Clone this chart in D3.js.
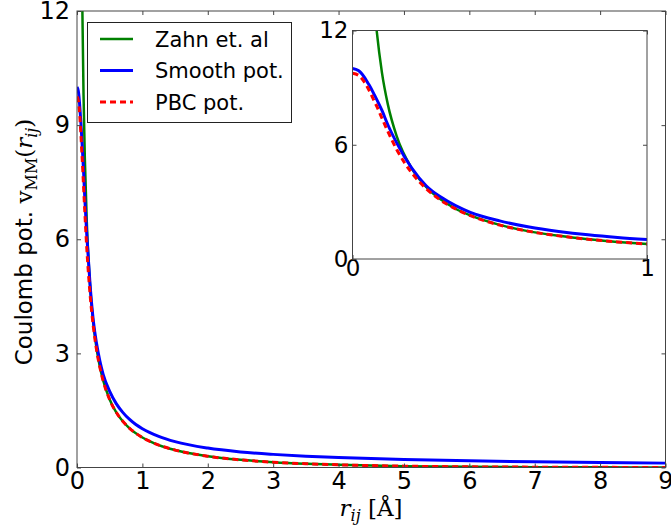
<!DOCTYPE html>
<html>
<head>
<meta charset="utf-8">
<script src="https://cdn.jsdelivr.net/npm/d3@7"></script>
<style>
  body { margin: 0; background: #fff; }
  svg { display: block; }
</style>
</head>
<body>
<svg id="chart" width="671" height="529"></svg>
<script>
// distance r_ij in Angstrom
const r_values = [0, 0.02, 0.04, 0.05, 0.06, 0.075, 0.08, 0.1, 0.12, 0.15, 0.2, 0.25, 0.3, 0.35, 0.4, 0.5,
  0.6, 0.7, 0.8, 0.9, 1.0, 1.25, 1.5, 2, 2.5, 3, 3.5, 4, 5, 6, 7, 8, 9]

// Zahn et. al (diverges at r -> 0, null where not drawn)
const zahn = [null, null, null, 19.6, 16.4, 13.1, 12.3, 9.79, 8.12, 6.45, 4.79, 3.79, 3.12, 2.64, 2.29, 1.79,
  1.45, 1.215, 1.037, 0.899, 0.788, 0.59, 0.458, 0.296, 0.201, 0.14, 0.099, 0.071, 0.036, 0.018, 0.009, 0.004, 0.002]

// smooth potential
const smooth = [10.0, 9.9, 9.55, 9.3, 9.05, 8.6, 8.45, 7.8, 7.05, 6.1, 4.8, 3.85, 3.25, 2.8, 2.45, 2.0,
  1.68, 1.45, 1.27, 1.13, 1.02, 0.82, 0.68, 0.51, 0.41, 0.345, 0.295, 0.26, 0.21, 0.175, 0.15, 0.13, 0.115]

// PBC potential
const pbc = [9.75, 9.65, 9.3, 9.05, 8.75, 8.25, 8.1, 7.4, 6.7, 5.75, 4.55, 3.7, 3.08, 2.63, 2.28, 1.78,
  1.45, 1.215, 1.037, 0.899, 0.788, 0.59, 0.458, 0.296, 0.201, 0.14, 0.099, 0.071, 0.036, 0.018, 0.009, 0.004, 0.002]

const series = [
  {name: "Zahn et. al", values: zahn, color: "#008000", width: 2.5, dash: null},
  {name: "Smooth pot.", values: smooth, color: "#0000ff", width: 3, dash: null},
  {name: "PBC pot.", values: pbc, color: "#ff0000", width: 3, dash: "6,4"},
]

const main_x_ticks = [0, 1, 2, 3, 4, 5, 6, 7, 8, 9]
const main_y_ticks = [0, 3, 6, 9, 12]
const inset_x_ticks = [0, 1]
const inset_y_ticks = [0, 6, 12]

const frame_color = "#444"
const font = "'DejaVu Sans', sans-serif"
const serif = "'DejaVu Serif', 'Liberation Serif', serif"

const svg = d3.select("#chart")

function draw_panel(opts){
  const x = d3.scaleLinear().domain(opts.x_domain).range([opts.left, opts.right])
  const y = d3.scaleLinear().domain(opts.y_domain).range([opts.bottom, opts.top])
  const g = svg.append("g")

  // white background (the inset covers the main plot)
  g.append("rect")
    .attr("x", opts.left).attr("y", opts.top)
    .attr("width", opts.right - opts.left).attr("height", opts.bottom - opts.top)
    .attr("fill", "#fff")

  g.append("clipPath").attr("id", opts.id + "-clip")
    .append("rect")
    .attr("x", opts.left).attr("y", opts.top)
    .attr("width", opts.right - opts.left).attr("height", opts.bottom - opts.top)

  const plot = g.append("g").attr("clip-path", `url(#${opts.id}-clip)`)

  series.forEach(s => {
    const pts = r_values.map((r, i) => [r, s.values[i]])
      .filter(p => p[0] <= opts.x_domain[1] + 1e-9)
    const line = d3.line()
      .defined(p => p[1] !== null)
      .x(p => x(p[0]))
      .y(p => y(p[1]))
      .curve(d3.curveMonotoneX)
    plot.append("path")
      .datum(pts)
      .attr("d", line)
      .attr("fill", "none")
      .attr("stroke", s.color)
      .attr("stroke-width", s.width)
      .attr("stroke-dasharray", s.dash)
  })

  // axes with inward ticks
  const tick_len = 4
  g.append("g")
    .attr("transform", `translate(0,${opts.bottom})`)
    .call(d3.axisBottom(x).tickValues(opts.x_ticks).tickSize(-tick_len).tickPadding(opts.x_pad).tickFormat(d3.format("d")))
  g.append("g")
    .attr("transform", `translate(${opts.left},0)`)
    .call(d3.axisLeft(y).tickValues(opts.y_ticks).tickSize(-tick_len).tickPadding(opts.y_pad).tickFormat(d3.format("d")))
  g.append("g")
    .attr("transform", `translate(0,${opts.top})`)
    .call(d3.axisTop(x).tickValues(opts.x_ticks).tickSize(-tick_len).tickFormat(""))
  g.append("g")
    .attr("transform", `translate(${opts.right},0)`)
    .call(d3.axisRight(y).tickValues(opts.y_ticks).tickSize(-tick_len).tickFormat(""))

  g.selectAll(".domain").remove()
  g.selectAll(".tick line").attr("stroke", frame_color)
  g.selectAll(".tick text")
    .attr("fill", "#000")
    .style("font-family", font)
    .style("font-size", opts.font_size + "px")

  g.append("rect")
    .attr("x", opts.left).attr("y", opts.top)
    .attr("width", opts.right - opts.left).attr("height", opts.bottom - opts.top)
    .attr("fill", "none")
    .attr("stroke", frame_color)
    .attr("stroke-width", 1)

  return {x, y, g}
}

// main plot
draw_panel({
  id: "main",
  left: 77, right: 665.5, top: 11, bottom: 467.5,
  x_domain: [0, 9], y_domain: [0, 12],
  x_ticks: main_x_ticks, y_ticks: main_y_ticks,
  x_pad: 4, y_pad: 7, font_size: 24
})

// legend
const legend = svg.append("g")
legend.append("rect")
  .attr("x", 87.5).attr("y", 22.5)
  .attr("width", 204).attr("height", 100)
  .attr("fill", "#fff")
  .attr("stroke", "#222")
  .attr("stroke-width", 1)

series.forEach((s, i) => {
  const ly = 39 + i * 31.5
  legend.append("line")
    .attr("x1", 100).attr("x2", 133)
    .attr("y1", ly).attr("y2", ly)
    .attr("stroke", s.color)
    .attr("stroke-width", s.width)
    .attr("stroke-dasharray", s.dash)
  legend.append("text")
    .attr("x", 155).attr("y", ly + 7.5)
    .style("font-family", font)
    .style("font-size", "21px")
    .text(s.name)
})

// inset
draw_panel({
  id: "inset",
  left: 352.5, right: 647, top: 30.5, bottom: 259,
  x_domain: [0, 1], y_domain: [0, 12],
  x_ticks: inset_x_ticks, y_ticks: inset_y_ticks,
  x_pad: 1, y_pad: 4, font_size: 23
})

// y axis title
const ylab = svg.append("text")
  .attr("transform", "translate(32,242) rotate(-90)")
  .attr("text-anchor", "middle")
  .style("font-size", "23px")
ylab.append("tspan").style("font-family", font).text("Coulomb pot. ")
ylab.append("tspan").style("font-family", serif).text("v")
ylab.append("tspan").style("font-family", serif).style("font-size", "16px").attr("dy", 5).text("MM")
ylab.append("tspan").style("font-family", serif).attr("dy", -5).text("(")
ylab.append("tspan").style("font-family", serif).style("font-style", "italic").text("r")
ylab.append("tspan").style("font-family", serif).style("font-style", "italic").style("font-size", "16px").attr("dy", 5).text("ij")
ylab.append("tspan").style("font-family", serif).attr("dy", -5).text(")")

// x axis title
const xlab = svg.append("text")
  .attr("x", 371).attr("y", 516)
  .attr("text-anchor", "middle")
  .style("font-family", serif)
  .style("font-size", "23px")
xlab.append("tspan").style("font-style", "italic").text("r")
xlab.append("tspan").style("font-style", "italic").style("font-size", "16px").attr("dy", 5).text("ij")
xlab.append("tspan").attr("dy", -5).text(" [Å]")
</script>
</body>
</html>
